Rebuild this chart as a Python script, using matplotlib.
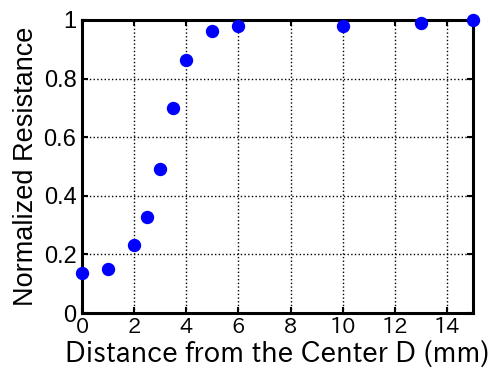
import numpy as np
import matplotlib.pyplot as plt

plt.rcParams['font.family'] = ['Liberation Sans', 'DejaVu Sans']

# distance from center (mm) and normalized resistance
distance = [0, 1, 2, 2.5, 3, 3.5, 4, 5, 6, 10, 13, 15]
resistance = [0.137, 0.150, 0.233, 0.328, 0.491, 0.700, 0.863, 0.963, 0.981, 0.981, 0.989, 1.0]

xticks = [0, 2, 4, 6, 8, 10, 12, 14]
yticks = [0, 0.2, 0.4, 0.6, 0.8, 1]
jp = ['IPAPGothic', 'DejaVu Sans']

fig = plt.figure(figsize=(4.92, 3.76), dpi=100)
ax = fig.add_axes([82 / 492, 1 - 313 / 376, 391 / 492, 293 / 376])

ax.plot(distance, resistance, 'o', color='#0000ff', markersize=8.6, clip_on=False, zorder=5)

ax.set_xlim(0, 15)
ax.set_ylim(0, 1)
ax.set_xticks(xticks, [f'{t:g}' for t in xticks], fontsize=15, family=jp)
ax.set_yticks(yticks, [f'{t:g}' for t in yticks], fontsize=17)
ax.grid(True, color='black', linestyle=':', linewidth=1)

for s in ax.spines.values():
    s.set_linewidth(2.2)
ax.tick_params(direction='in', length=4, width=1.5, top=True, right=True)
ax.tick_params(axis='x', pad=3)
ax.tick_params(axis='y', pad=4)

ax.set_xlabel('Distance from the Center D (mm)', fontsize=19.8, family=jp, labelpad=2)
ax.set_ylabel('Normalized Resistance', fontsize=19.5, labelpad=3)

fig.savefig('out.png', dpi=100)
